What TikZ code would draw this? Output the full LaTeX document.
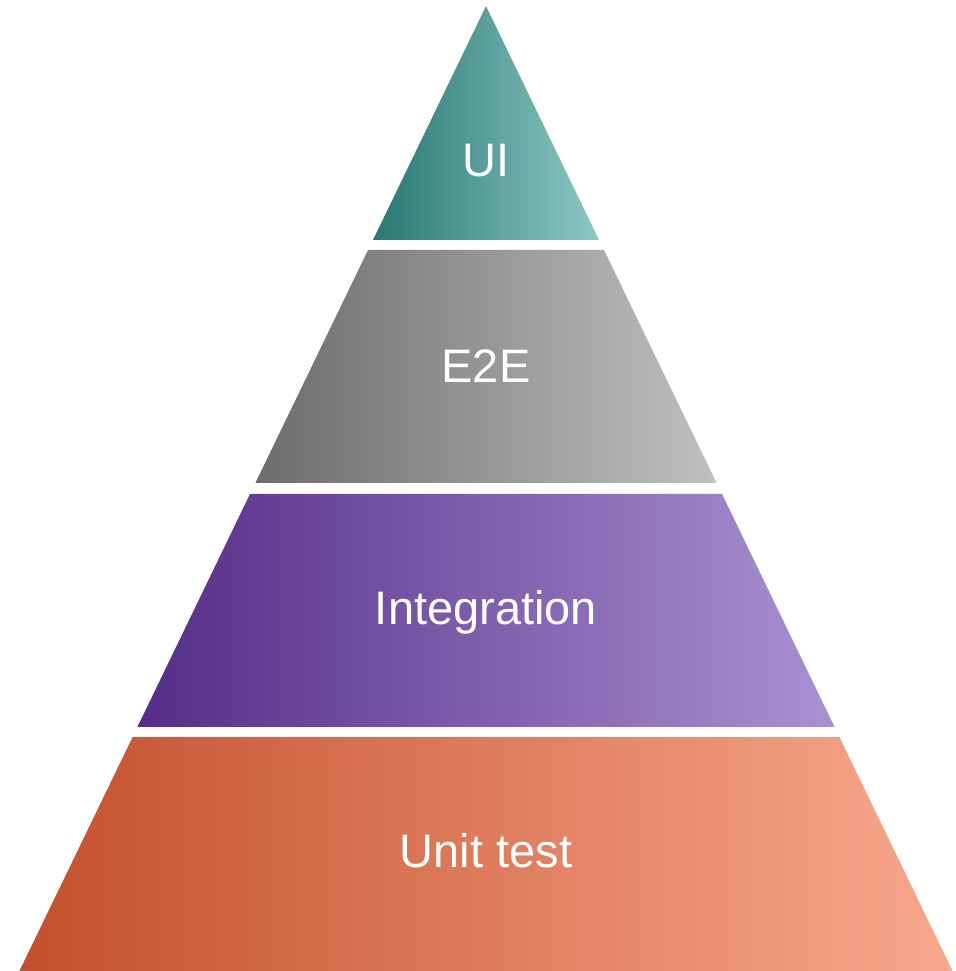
\documentclass[tikz,border=0pt]{standalone}
\usepackage{fontspec}
\setmainfont{Liberation Sans}
\definecolor{uiL}{RGB}{42,119,116}
\definecolor{uiR}{RGB}{140,200,197}
\definecolor{eeL}{RGB}{108,108,108}
\definecolor{eeR}{RGB}{192,192,192}
\definecolor{inL}{RGB}{85,45,135}
\definecolor{inR}{RGB}{170,145,210}
\definecolor{utL}{RGB}{195,80,45}
\definecolor{utR}{RGB}{248,168,140}
\tikzset{
  layerlabel/.style={text=white,anchor=base,inner sep=0pt,font=\fontsize{47}{56}\selectfont}
}
\begin{document}
\begin{tikzpicture}[x=1pt,y=1pt]
                \useasboundingbox (0,0) rectangle (955,971);
                \shade[left color=uiL,right color=uiR] (486,965) -- (599,731) -- (373,731) -- cycle;
                \shade[left color=eeL,right color=eeR] (368,721) -- (604,721) -- (716.6,488) -- (255.4,488) -- cycle;
                \shade[left color=inL,right color=inR] (250,477) -- (722,477) -- (834.6,244) -- (137.4,244) -- cycle;
                \shade[left color=utL,right color=utR] (132.6,234) -- (839.4,234) -- (952.6,0) -- (19.4,0) -- cycle;
                \node[layerlabel] (ui) at (486,794) {UI};
                \node[layerlabel] (e2e) at (486,588) {E2E};
                \node[layerlabel] (integ) at (486,346) {Integration};
                \node[layerlabel] (unit) at (486,103) {Unit test};
            \end{tikzpicture}
\end{document}
